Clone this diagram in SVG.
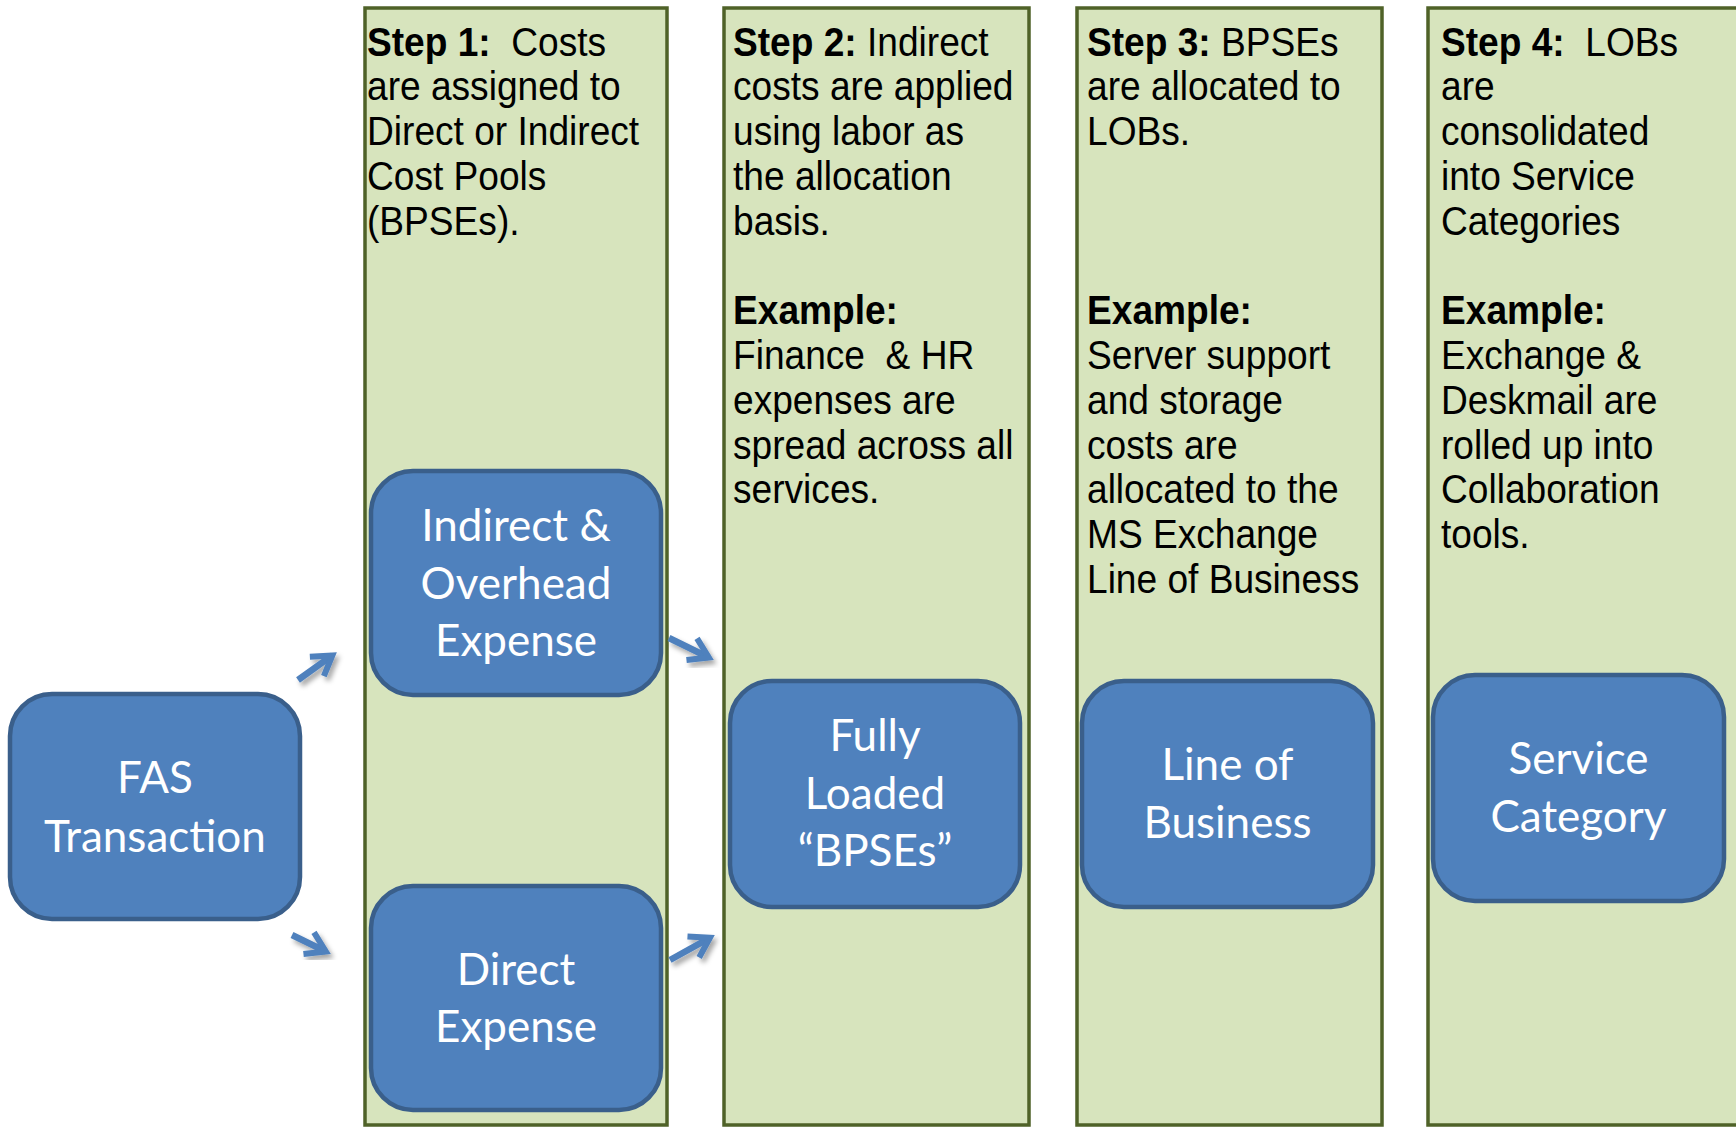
<svg xmlns="http://www.w3.org/2000/svg" width="1736" height="1127" viewBox="0 0 1736 1127">
<style>
.col{fill:#d7e4bd;stroke:#4f6228;stroke-width:3.5}
.node{fill:#4f81bd;stroke:#3a5f8b;stroke-width:4.5}
.ct{font-family:"Liberation Sans",Arial,sans-serif;font-size:41px;fill:#000}
.b{font-weight:bold}
.nt{font-family:Lato,"Open Sans",sans-serif;font-size:44px;fill:#fff;text-anchor:middle}
.arr{fill:none;stroke:#4f81bd;stroke-width:6.5;marker-end:url(#ah);filter:url(#sh)}
</style>
<defs>
<marker id="ah" viewBox="-26 -16 32 32" refX="0" refY="0" markerWidth="32" markerHeight="32" markerUnits="userSpaceOnUse" orient="auto">
<path d="M-19,-12 L0,0 L-19,12" fill="none" stroke="#4f81bd" stroke-width="6" stroke-linejoin="miter"/>
</marker>
<filter id="sh" x="-50%" y="-50%" width="200%" height="200%">
<feDropShadow dx="3" dy="4" stdDeviation="2.5" flood-color="#000" flood-opacity="0.35"/>
</filter>
</defs>

<g id="step1">
<rect class="col" x="365" y="8" width="302" height="1117"/>
<text class="ct" xml:space="preserve" transform="translate(367,55.5) scale(0.905,1)"><tspan x="0" y="0"><tspan class="b">Step 1:</tspan>  Costs</tspan><tspan x="0" y="44.8">are assigned to</tspan><tspan x="0" y="89.6">Direct or Indirect</tspan><tspan x="0" y="134.4">Cost Pools</tspan><tspan x="0" y="179.2">(BPSEs).</tspan></text>
</g>
<g id="step2">
<rect class="col" x="724" y="8" width="305" height="1117"/>
<text class="ct" xml:space="preserve" transform="translate(733,55.5) scale(0.905,1)"><tspan x="0" y="0"><tspan class="b">Step 2:</tspan> Indirect</tspan><tspan x="0" y="44.8">costs are applied</tspan><tspan x="0" y="89.6">using labor as</tspan><tspan x="0" y="134.4">the allocation</tspan><tspan x="0" y="179.2">basis.</tspan><tspan x="0" y="268.8" class="b">Example:</tspan><tspan x="0" y="313.6">Finance  &amp; HR</tspan><tspan x="0" y="358.4">expenses are</tspan><tspan x="0" y="403.2">spread across all</tspan><tspan x="0" y="448">services.</tspan></text>
</g>
<g id="step3">
<rect class="col" x="1077" y="8" width="305" height="1117"/>
<text class="ct" xml:space="preserve" transform="translate(1087,55.5) scale(0.905,1)"><tspan x="0" y="0"><tspan class="b">Step 3:</tspan> BPSEs</tspan><tspan x="0" y="44.8">are allocated to</tspan><tspan x="0" y="89.6">LOBs.</tspan><tspan x="0" y="268.8" class="b">Example:</tspan><tspan x="0" y="313.6">Server support</tspan><tspan x="0" y="358.4">and storage</tspan><tspan x="0" y="403.2">costs are</tspan><tspan x="0" y="448">allocated to the</tspan><tspan x="0" y="492.8">MS Exchange</tspan><tspan x="0" y="537.6">Line of Business</tspan></text>
</g>
<g id="step4">
<rect class="col" x="1428" y="8" width="320" height="1117"/>
<text class="ct" xml:space="preserve" transform="translate(1441,55.5) scale(0.905,1)"><tspan x="0" y="0"><tspan class="b">Step 4:</tspan>  LOBs</tspan><tspan x="0" y="44.8">are</tspan><tspan x="0" y="89.6">consolidated</tspan><tspan x="0" y="134.4">into Service</tspan><tspan x="0" y="179.2">Categories</tspan><tspan x="0" y="268.8" class="b">Example:</tspan><tspan x="0" y="313.6">Exchange &amp;</tspan><tspan x="0" y="358.4">Deskmail are</tspan><tspan x="0" y="403.2">rolled up into</tspan><tspan x="0" y="448">Collaboration</tspan><tspan x="0" y="492.8">tools.</tspan></text>
</g>

<g id="fas">
<rect class="node" x="10" y="694" width="290" height="225" rx="42"/>
<text class="nt"><tspan x="155" y="793">FAS</tspan><tspan x="155" y="852">Transaction</tspan></text>
</g>
<g id="indirect">
<rect class="node" x="371" y="471" width="290" height="224" rx="42"/>
<text class="nt"><tspan x="516" y="541">Indirect &amp;</tspan><tspan x="516" y="599">Overhead</tspan><tspan x="516" y="656">Expense</tspan></text>
</g>
<g id="direct">
<rect class="node" x="371" y="886" width="290" height="224" rx="42"/>
<text class="nt"><tspan x="516" y="985">Direct</tspan><tspan x="516" y="1042">Expense</tspan></text>
</g>
<g id="fully">
<rect class="node" x="730" y="681" width="290" height="226" rx="42"/>
<text class="nt"><tspan x="875" y="751">Fully</tspan><tspan x="875" y="809">Loaded</tspan><tspan x="875" y="866">“BPSEs”</tspan></text>
</g>
<g id="lob">
<rect class="node" x="1082" y="681" width="291" height="226" rx="42"/>
<text class="nt"><tspan x="1227.5" y="780">Line of</tspan><tspan x="1227.5" y="838">Business</tspan></text>
</g>
<g id="service">
<rect class="node" x="1433" y="675" width="291" height="226" rx="42"/>
<text class="nt"><tspan x="1578.5" y="774">Service</tspan><tspan x="1578.5" y="832">Category</tspan></text>
</g>

<g id="connectors">
<path class="arr" d="M298,680 L332.3,655.4"/>
<path class="arr" d="M292,935 L325.8,951.5"/>
<path class="arr" d="M669,638 L708.8,657.5"/>
<path class="arr" d="M670,960 L709.9,937.8"/>
<path class="arr" d="M1035,813 L1061,813"/>
<path class="arr" d="M1387,813 L1413,813"/>
</g>
</svg>
